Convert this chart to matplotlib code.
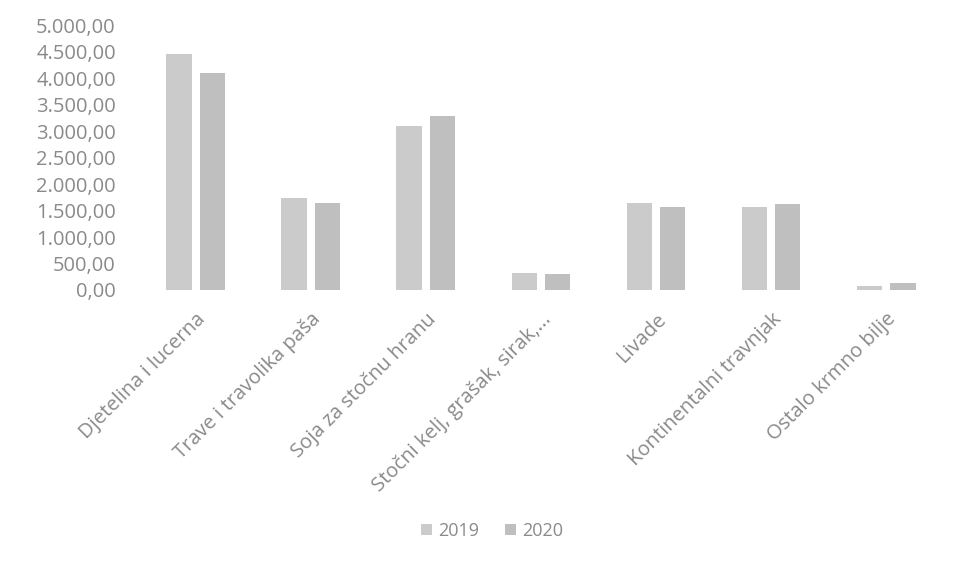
import matplotlib
matplotlib.use('Agg')
from matplotlib import pyplot as plt
import numpy as np

categories = ['Djetelina i lucerna', 'Trave i travolika paša', 'Soja za stočnu hranu',
              'Stočni kelj, grašak, sirak,...', 'Livade', 'Kontinentalni travnjak',
              'Ostalo krmno bilje']
values_2019 = [4450, 1730, 3100, 320, 1650, 1570, 80]
values_2020 = [4100, 1650, 3290, 300, 1560, 1620, 130]
years = ['2019', '2020']
yticks = np.arange(0, 5001, 500)

plt.rcParams['font.family'] = ['Open Sans', 'DejaVu Sans']
text_color = '#8a8a8a'

fig = plt.figure(figsize=(9.65, 5.62), dpi=100)
ax = fig.add_axes([0.143, 0.484, 0.835, 0.471])

x = np.arange(len(categories))
w = 0.22
gap = 0.07
ax.bar(x - (w + gap) / 2, values_2019, w, color='#cbcbcb', label=years[0])
ax.bar(x + (w + gap) / 2, values_2020, w, color='#bfbfbf', label=years[1])

ax.set_xlim(-0.5, len(categories) - 0.5)
ax.set_ylim(0, 5000)
ax.set_yticks(yticks)
ax.set_yticklabels([f'{v:,.2f}'.replace(',', 'X').replace('.', ',').replace('X', '.') for v in yticks],
                   fontsize=14.5, color=text_color)
ax.set_xticks(x)
ax.set_xticklabels(categories, rotation=45, ha='right', rotation_mode='anchor',
                   fontsize=14.5, color=text_color)
ax.tick_params(axis='x', length=0, pad=14)
ax.tick_params(axis='y', length=0, pad=16)
for s in ax.spines.values():
    s.set_visible(False)

fig.legend(loc='lower center', bbox_to_anchor=(0.51, 0.01), ncol=2, frameon=False,
           fontsize=13, labelcolor=text_color, handlelength=0.6, handleheight=0.6,
           handletextpad=0.35, columnspacing=1.4)

fig.savefig('out.png', dpi=100)
